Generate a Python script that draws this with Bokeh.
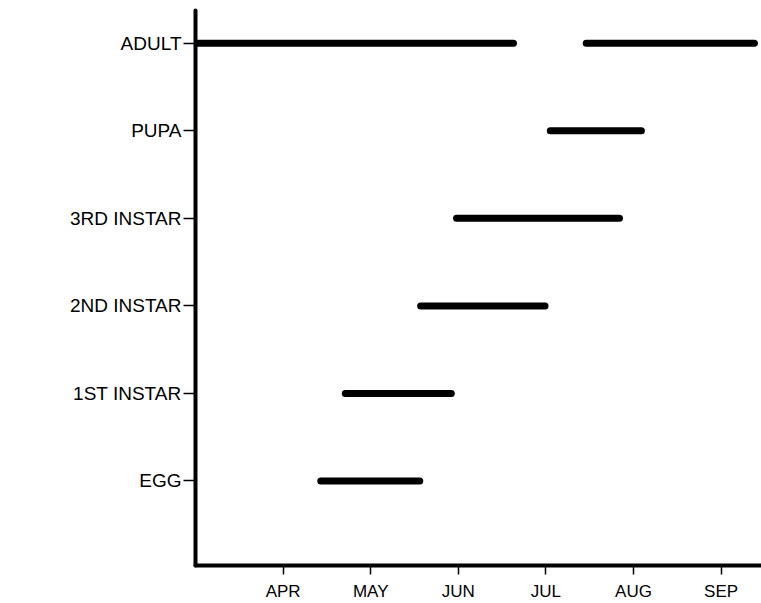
from bokeh.plotting import figure
from bokeh.models import Range1d, FixedTicker, ColumnDataSource
from bokeh.embed import file_html
from bokeh.resources import INLINE

# Life stages, bottom to top
stages = ["EGG", "1ST INSTAR", "2ND INSTAR", "3RD INSTAR", "PUPA", "ADULT"]

# Month tick positions (month number) and labels
month_pos = [4, 5, 6, 7, 8, 9]
month_labels = ["APR", "MAY", "JUN", "JUL", "AUG", "SEP"]

# Occurrence periods (in months, APR = 4.0)
bar_stage = ["ADULT", "ADULT", "PUPA", "3RD INSTAR", "2ND INSTAR", "1ST INSTAR", "EGG"]
bar_start = [3.00, 7.46, 7.05, 5.98, 5.57, 4.71, 4.43]
bar_end = [6.63, 9.38, 8.09, 7.84, 6.99, 5.92, 5.56]

src = ColumnDataSource(dict(
    start=bar_start,
    end=bar_end,
    y=[stages.index(s) for s in bar_stage],
    stage=bar_stage,
))

p = figure(
    width=761, height=603,
    output_backend="svg", toolbar_location=None,
    x_range=Range1d(3.0, 9.461),
    y_range=Range1d(-0.966, 5.375),
    min_border_left=195, min_border_right=0,
    min_border_top=10, min_border_bottom=35,
    background_fill_color="white", border_fill_color="white",
)
p.outline_line_color = None
p.xgrid.visible = False
p.ygrid.visible = False

p.segment(x0="start", y0="y", x1="end", y1="y", source=src,
          line_width=7, line_color="black", line_cap="round")

# X axis (months)
xa = p.xaxis[0]
xa.ticker = FixedTicker(ticks=month_pos)
xa.major_label_overrides = {m: lab for m, lab in zip(month_pos, month_labels)}
xa.axis_line_width = 4
xa.axis_line_color = "black"
xa.axis_line_cap = "round"
xa.major_tick_out = 9
xa.major_tick_in = 0
xa.major_tick_line_width = 1.5
xa.major_tick_line_color = "black"
xa.minor_tick_line_color = None
xa.major_label_standoff = 7
xa.major_label_text_font = "Liberation Sans"
xa.major_label_text_font_size = "17px"
xa.major_label_text_color = "black"

# Y axis (stages)
ya = p.yaxis[0]
ya.ticker = FixedTicker(ticks=list(range(len(stages))))
ya.major_label_overrides = {i: s for i, s in enumerate(stages)}
ya.axis_line_width = 4
ya.axis_line_color = "black"
ya.axis_line_cap = "round"
ya.major_tick_out = 12
ya.major_tick_in = 0
ya.major_tick_line_width = 1.5
ya.major_tick_line_color = "black"
ya.minor_tick_line_color = None
ya.major_label_standoff = 2
ya.major_label_text_font = "Liberation Sans"
ya.major_label_text_font_size = "19px"
ya.major_label_text_color = "black"

open("out.html", "w").write(file_html(p, INLINE))
